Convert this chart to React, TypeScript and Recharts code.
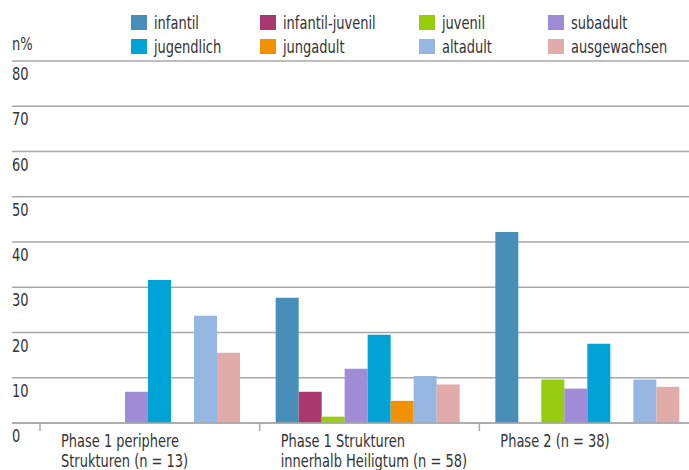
import React from 'react';
import { BarChart, Bar, XAxis, YAxis, CartesianGrid } from 'recharts';

const categories = ['Phase 1 periphere Strukturen (n = 13)', 'Phase 1 Strukturen innerhalb Heiligtum (n = 58)', 'Phase 2 (n = 38)'];
const categoryLines = [
  ['Phase 1 periphere', 'Strukturen (n = 13)'],
  ['Phase 1 Strukturen', 'innerhalb Heiligtum (n = 58)'],
  ['Phase 2 (n = 38)'],
];
const seriesNames = ['infantil', 'infantil-juvenil', 'juvenil', 'subadult', 'jugendlich', 'jungadult', 'altadult', 'ausgewachsen'];
const seriesColors = ['#478fba', '#a8386e', '#97cc0f', '#a08cd6', '#00a3d6', '#f39200', '#95b6e0', '#e0aba8'];

const infantil = [0, 27.7, 42.2];
const infantilJuvenil = [0, 6.9, 0];
const juvenil = [0, 1.4, 9.6];
const subadult = [6.9, 12.0, 7.6];
const jugendlich = [31.6, 19.5, 17.5];
const jungadult = [0, 4.9, 0];
const altadult = [23.7, 10.4, 9.6];
const ausgewachsen = [15.5, 8.5, 8.0];
const seriesValues = [infantil, infantilJuvenil, juvenil, subadult, jugendlich, jungadult, altadult, ausgewachsen];

const yTicks = [0, 10, 20, 30, 40, 50, 60, 70, 80];
const yLabel = 'n%';

const data = categories.map((c, i) => {
  const row: Record<string, any> = { cat: c };
  seriesNames.forEach((s, k) => { row[s] = seriesValues[k][i]; });
  return row;
});

const FONT = "'DejaVu Sans Condensed', 'Liberation Sans Narrow', 'Arial Narrow', sans-serif";
const SX = 0.85;
const TEXT = '#333333';
const GRID = '#a8a8a8';
const W = 699;
const H = 470;
const PLOT_LEFT = 12;
const PAD_LEFT = 28;
const TOP = 61;
const XAXIS_H = 47;
const AXIS_Y = H - XAXIS_H;
const BAND = (W - PLOT_LEFT - PAD_LEFT) / categories.length;

const legendCols = [131, 260, 419, 548];
const legendRows = [15, 39];

const STxt = ({ x, y, children }: any) => (
  <text transform={`translate(${x},${y}) scale(${SX},1)`} x={0} y={0} fill={TEXT} fontSize={17} fontFamily={FONT} textAnchor="start">
    {children}
  </text>
);

const YTick = (props: any) => {
  const { y, payload } = props;
  return <STxt x={12} y={y + 19}>{payload.value}</STxt>;
};

const XTick = (props: any) => {
  const { x, index } = props;
  const left = x - BAND / 2;
  const lines = categoryLines[index] || [];
  return (
    <g>
      <line x1={left} x2={left} y1={AXIS_Y} y2={AXIS_Y + 8} stroke={GRID} strokeWidth={1.5} />
      {lines.map((l, i) => (
        <STxt key={i} x={left + 21} y={AXIS_Y + 24 + i * 20}>{l}</STxt>
      ))}
    </g>
  );
};

const htmlText = (extra: any) => ({
  position: 'absolute' as const,
  fontSize: 17,
  lineHeight: '17px',
  color: TEXT,
  whiteSpace: 'nowrap' as const,
  transform: `scaleX(${SX})`,
  transformOrigin: 'left top',
  ...extra,
});

export default function App() {
  return (
    <div style={{ position: 'absolute', left: 0, top: 0, width: 689, height: 470, overflow: 'hidden', background: '#fff', fontFamily: FONT }}>
      <BarChart
        width={W}
        height={H}
        data={data}
        margin={{ top: TOP, right: 0, bottom: 0, left: 0 }}
        barCategoryGap={16}
        barGap={0}
      >
        <CartesianGrid vertical={false} stroke={GRID} strokeWidth={1.5} />
        <YAxis
          width={PLOT_LEFT}
          domain={[0, 80]}
          ticks={yTicks}
          interval={0}
          axisLine={false}
          tickLine={false}
          tick={<YTick />}
        />
        <XAxis
          dataKey="cat"
          height={XAXIS_H}
          padding={{ left: PAD_LEFT, right: 0 }}
          interval={0}
          axisLine={{ stroke: GRID, strokeWidth: 1.5 }}
          tickLine={false}
          tick={<XTick />}
        />
        {seriesNames.map((s, k) => (
          <Bar key={s} dataKey={s} fill={seriesColors[k]} isAnimationActive={false} />
        ))}
      </BarChart>
      <div style={htmlText({ left: 12, top: 36 })}>{yLabel}</div>
      {seriesNames.map((s, k) => {
        const col = k % 4;
        const row = Math.floor(k / 4);
        const lx = legendCols[col];
        const ty = legendRows[row];
        return (
          <div key={s}>
            <div style={{ position: 'absolute', left: lx, top: ty, width: 16, height: 15, background: seriesColors[k] }} />
            <div style={htmlText({ left: lx + 23, top: ty })}>{s}</div>
          </div>
        );
      })}
    </div>
  );
}
